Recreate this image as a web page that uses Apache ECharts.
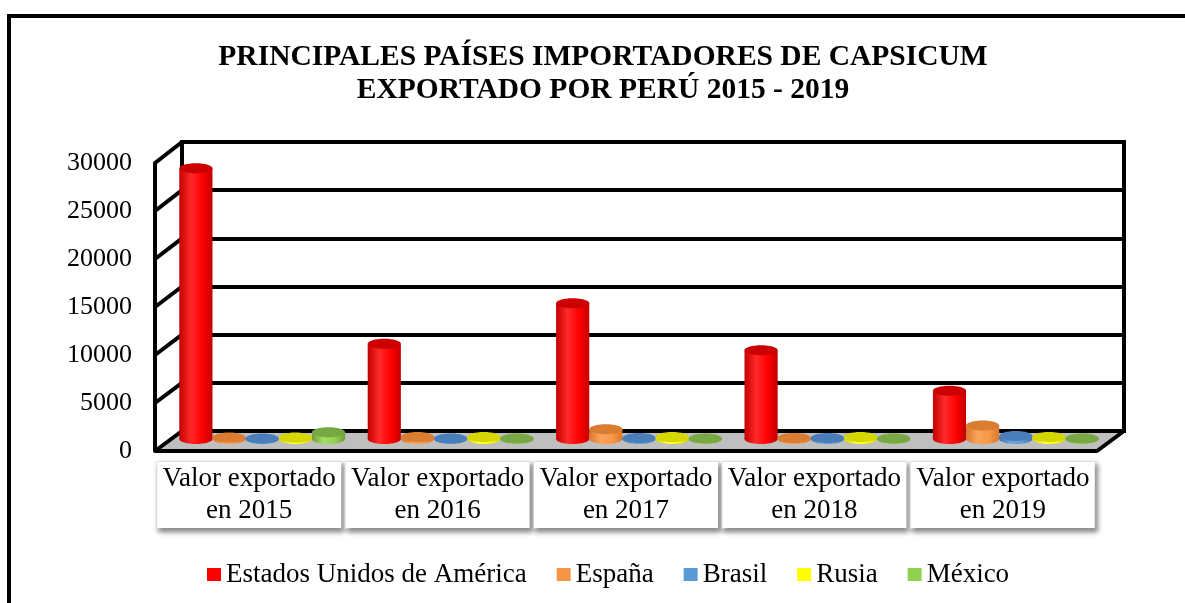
<!DOCTYPE html>
<html>
<head>
<meta charset="utf-8">
<script src="https://cdn.jsdelivr.net/npm/echarts@6/dist/echarts.min.js"></script>
<style>
  html, body { margin: 0; padding: 0; background: #fff; }
  #chart { width: 1185px; height: 603px; }
</style>
</head>
<body>
<div id="chart"></div>
<script>
// datos
var years = ['2015', '2016', '2017', '2018', '2019'];
var categories = years.map(function (y) { return 'Valor exportado\nen ' + y; });
var usa = [28100, 9900, 14100, 9200, 5000];
var espana = [150, 200, 1000, 100, 1400];
var brasil = [50, 50, 100, 100, 300];
var rusia = [150, 200, 200, 200, 200];
var mexico = [700, 50, 50, 50, 50];
var yMin = 0, yMax = 30000, yStep = 5000;

var FONT = '"Liberation Serif", "Times New Roman", serif';

var paises = [
  { name: 'Estados Unidos de América', data: usa, main: '#FF0000', dark: '#C40000', light: '#FF2A2A', top: '#CC0000' },
  { name: 'España', data: espana, main: '#F79646', dark: '#D9782F', light: '#FBA45C', top: '#DB7D30' },
  { name: 'Brasil', data: brasil, main: '#5B9BD5', dark: '#3F75B0', light: '#6AA8E0', top: '#4A7EBB' },
  { name: 'Rusia', data: rusia, main: '#FFFF00', dark: '#D2D200', light: '#FFFF4D', top: '#D6D600' },
  { name: 'México', data: mexico, main: '#92D050', dark: '#6E9E3A', light: '#A4DE66', top: '#77A843' }
];

function cylinder(p) {
  return function (params, api) {
    var cat = api.value(0), val = api.value(1);
    var base = api.coord([cat, 0]);
    var top = api.coord([cat, val]);
    var band = api.size([1, 0])[0];
    var w = band * 0.88 / 5;
    var x = base[0] - band * 0.44 + params.seriesIndex * w;
    var ry = 5;
    var side = {
      type: 'linear', x: 0, y: 0, x2: 1, y2: 0,
      colorStops: [
        { offset: 0, color: p.dark },
        { offset: 0.35, color: p.light },
        { offset: 0.7, color: p.main },
        { offset: 1, color: p.dark }
      ]
    };
    return {
      type: 'group',
      children: [
        { type: 'ellipse', shape: { cx: x + w / 2, cy: base[1], rx: w / 2, ry: ry }, style: { fill: side } },
        { type: 'rect', shape: { x: x, y: top[1], width: w, height: base[1] - top[1] }, style: { fill: side } },
        { type: 'ellipse', shape: { cx: x + w / 2, cy: top[1], rx: w / 2, ry: ry }, style: { fill: p.top } }
      ]
    };
  };
}

var chart = echarts.init(document.getElementById('chart'));

chart.setOption({
  animation: false,
  backgroundColor: '#fff',
  title: {
    text: 'PRINCIPALES PAÍSES IMPORTADORES DE CAPSICUM\nEXPORTADO POR PERÚ 2015 - 2019',
    left: 603,
    textAlign: 'center',
    top: 41,
    padding: 0,
    textStyle: { fontFamily: FONT, fontSize: 29.5, fontWeight: 'bold', color: '#000', lineHeight: 33 }
  },
  legend: {
    top: 561,
    left: 207,
    padding: 0,
    icon: 'rect',
    itemWidth: 14,
    itemHeight: 13,
    itemGap: 30,
    textStyle: { fontFamily: FONT, fontSize: 27, color: '#000' },
    data: paises.map(function (p) { return p.name; })
  },
  grid: [
    // frente
    { left: 155, right: 88, top: 163, bottom: 152 },
    // pared del fondo
    { left: 182, right: 61, top: 142, bottom: 172, show: true, borderColor: '#000', borderWidth: 4, backgroundColor: 'transparent' },
    // plano de las barras
    { left: 168, right: 75, top: 150, bottom: 164 }
  ],
  xAxis: [
    {
      gridIndex: 0, type: 'category', data: categories,
      axisLine: { show: false }, axisTick: { show: false },
      axisLabel: {
        interval: 0, margin: 11,
        fontFamily: FONT, fontSize: 27, color: '#000', lineHeight: 32,
        width: 184, align: 'center', padding: [1, 0, 1, 0],
        backgroundColor: '#fff', borderColor: '#e6e6e6', borderWidth: 1,
        shadowColor: 'rgba(0,0,0,0.45)', shadowBlur: 5, shadowOffsetX: 2, shadowOffsetY: 3
      }
    },
    { gridIndex: 1, type: 'category', data: categories, show: false },
    { gridIndex: 2, type: 'category', data: categories, show: false }
  ],
  yAxis: [
    {
      gridIndex: 0, type: 'value', min: yMin, max: yMax, interval: yStep,
      axisLine: { show: false }, axisTick: { show: false }, splitLine: { show: false },
      axisLabel: {
        margin: 23, fontFamily: FONT, fontSize: 26, color: '#000',
        formatter: function (v) { return String(v); }
      }
    },
    {
      gridIndex: 1, type: 'value', min: yMin, max: yMax, interval: yStep,
      axisLine: { show: false }, axisTick: { show: false }, axisLabel: { show: false },
      splitLine: { show: true, lineStyle: { color: '#000', width: 4 } }
    },
    { gridIndex: 2, type: 'value', min: yMin, max: yMax, interval: yStep, show: false }
  ],
  series: paises.map(function (p) {
    return {
      name: p.name,
      type: 'custom',
      xAxisIndex: 2,
      yAxisIndex: 2,
      z: 5,
      itemStyle: { color: p.main },
      encode: { x: 0, y: 1 },
      data: p.data.map(function (v, i) { return [i, v]; }),
      renderItem: cylinder(p)
    };
  })
});

// paredes 3D: piso y pared izquierda, a partir de los ejes
var fx0 = 155, fx1 = 1185 - 88, bx0 = 182, bx1 = 1185 - 61;
function yF(v) { return chart.convertToPixel({ yAxisIndex: 0 }, v); }
function yB(v) { return chart.convertToPixel({ yAxisIndex: 1 }, v); }

var graphics = [
  { type: 'rect', z: 0, shape: { x: 9, y: 16, width: 1200, height: 620 }, style: { fill: 'none', stroke: '#000', lineWidth: 4 } },
  {
    type: 'polygon', z: 1,
    shape: { points: [[fx0, yF(0)], [fx1, yF(0)], [bx1, yB(0)], [bx0, yB(0)]] },
    style: { fill: '#BFBFBF', stroke: '#000', lineWidth: 4, lineJoin: 'round' }
  },
  { type: 'line', z: 1, shape: { x1: fx0, y1: yF(0), x2: fx0, y2: yF(yMax) }, style: { stroke: '#000', lineWidth: 4 } }
];
for (var v = yStep; v <= yMax; v += yStep) {
  graphics.push({ type: 'line', z: 1, shape: { x1: fx0, y1: yF(v), x2: bx0, y2: yB(v) }, style: { stroke: '#000', lineWidth: 4, lineCap: 'round' } });
}
chart.setOption({ graphic: graphics });
</script>
</body>
</html>
